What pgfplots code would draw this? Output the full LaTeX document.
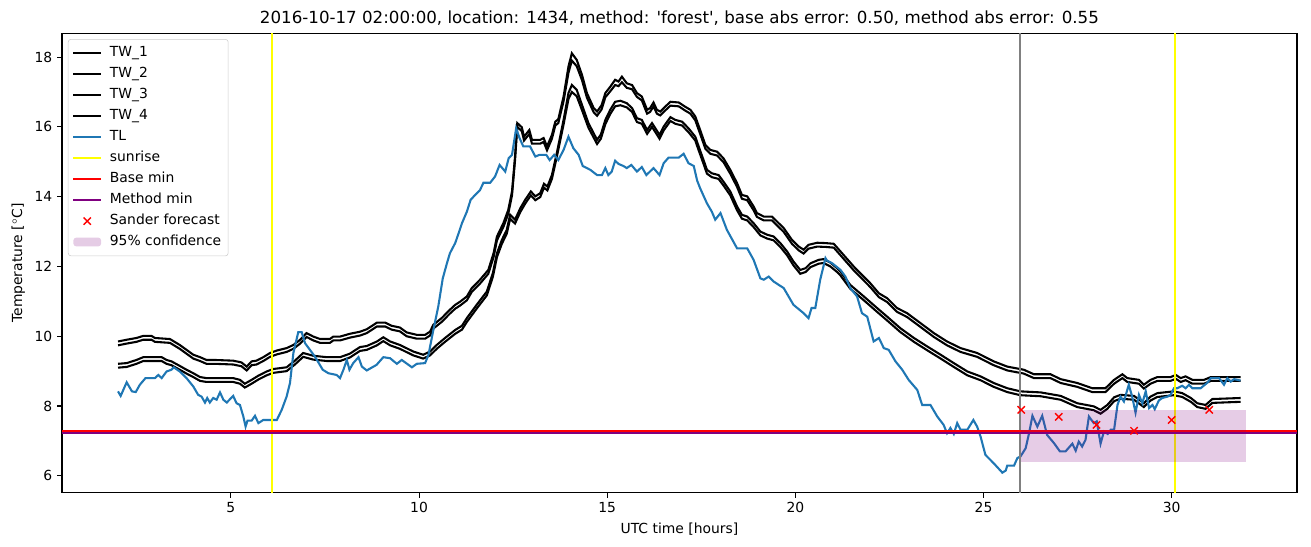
\documentclass[border=0pt]{standalone}
\usepackage{fontspec}
\setmainfont{DejaVu Sans}
\newfontfamily\plainfont{DejaVu Sans}
\usepackage{pgfplots}
\usepackage{pgfplotstable}
\pgfplotsset{compat=1.18}
\definecolor{tlblue}{HTML}{1F77B4}
\definecolor{mplpurple}{HTML}{800080}
\definecolor{mplgray}{HTML}{808080}
\definecolor{mplyellow}{HTML}{FFFF00}
\definecolor{mplred}{HTML}{FF0000}

\pgfplotstableread{
x tl
2.00 8.42
2.07 8.29
2.23 8.68
2.37 8.42
2.47 8.40
2.58 8.61
2.73 8.80
2.98 8.80
3.07 8.89
3.16 8.80
3.29 8.99
3.42 9.04
3.48 9.11
3.64 8.99
3.82 8.80
4.00 8.56
4.13 8.32
4.22 8.27
4.31 8.10
4.37 8.23
4.44 8.10
4.53 8.23
4.62 8.18
4.71 8.39
4.80 8.18
4.89 8.10
5.06 8.29
5.15 8.08
5.24 8.03
5.33 7.70
5.39 7.41
5.44 7.58
5.55 7.58
5.64 7.72
5.73 7.51
5.86 7.60
6.22 7.60
6.35 7.89
6.48 8.27
6.57 8.66
6.66 9.52
6.79 10.12
6.88 10.12
6.97 9.80
7.23 9.42
7.44 9.04
7.59 8.94
7.81 8.89
7.90 8.80
7.99 9.04
8.08 9.32
8.15 9.04
8.25 9.23
8.39 9.40
8.48 9.13
8.61 9.02
8.87 9.18
9.05 9.40
9.23 9.37
9.41 9.21
9.54 9.32
9.81 9.11
9.94 9.21
10.16 9.23
10.25 9.47
10.38 10.18
10.51 10.85
10.63 11.66
10.74 12.09
10.82 12.38
10.96 12.67
11.05 12.95
11.14 13.24
11.27 13.57
11.37 13.91
11.49 14.05
11.62 14.19
11.71 14.40
11.89 14.40
12.02 14.58
12.14 14.91
12.29 14.72
12.38 15.10
12.47 15.20
12.58 15.96
12.67 15.68
12.77 15.44
12.95 15.44
13.09 15.15
13.20 15.20
13.38 15.20
13.47 15.05
13.59 15.20
13.70 15.05
13.84 15.34
13.97 15.72
14.10 15.39
14.24 15.20
14.35 14.88
14.55 14.77
14.73 14.62
14.86 14.62
14.95 14.82
15.03 14.62
15.12 14.72
15.21 15.03
15.30 14.94
15.43 14.88
15.52 14.82
15.64 14.91
15.79 14.72
15.92 14.85
16.04 14.62
16.23 14.82
16.39 14.62
16.50 14.96
16.63 15.12
16.90 15.12
17.03 15.23
17.16 14.96
17.30 14.88
17.39 14.46
17.47 14.24
17.65 13.81
17.78 13.57
17.87 13.34
18.01 13.53
18.18 13.05
18.45 12.52
18.72 12.52
18.89 12.19
19.07 11.66
19.16 11.62
19.29 11.71
19.42 11.57
19.69 11.38
19.95 10.90
20.22 10.66
20.35 10.52
20.43 10.81
20.53 10.81
20.66 11.62
20.80 12.24
20.84 12.17
20.98 12.09
21.20 11.90
21.33 11.71
21.46 11.38
21.64 11.14
21.77 10.66
21.91 10.56
22.08 9.85
22.22 9.95
22.35 9.66
22.48 9.61
22.66 9.28
22.84 9.04
23.01 8.75
23.24 8.46
23.37 8.03
23.59 8.03
23.77 7.70
23.94 7.46
24.03 7.22
24.12 7.37
24.21 7.20
24.30 7.51
24.39 7.32
24.57 7.32
24.73 7.60
24.83 7.41
24.92 7.13
25.05 6.60
25.27 6.36
25.50 6.09
25.59 6.15
25.63 6.29
25.81 6.29
25.90 6.51
25.98 6.55
26.12 6.79
26.21 7.22
26.30 7.72
26.43 7.41
26.56 7.72
26.69 7.17
26.87 6.94
27.03 6.70
27.18 6.70
27.36 6.92
27.45 6.72
27.53 6.98
27.62 6.84
27.71 7.03
27.80 7.70
27.93 7.51
28.01 7.56
28.11 6.92
28.20 7.27
28.30 7.20
28.38 7.32
28.47 7.32
28.56 8.03
28.64 8.27
28.73 8.13
28.86 8.61
28.95 8.27
29.04 7.81
29.13 8.32
29.22 8.08
29.31 8.42
29.40 7.94
29.49 8.03
29.55 7.91
29.66 8.16
29.75 8.23
29.89 8.27
29.97 8.32
30.06 8.51
30.15 8.51
30.28 8.58
30.37 8.51
30.46 8.61
30.55 8.51
30.77 8.51
30.95 8.67
31.04 8.80
31.26 8.80
31.39 8.61
31.48 8.80
31.57 8.70
31.66 8.77
31.83 8.73
}\tltable

\pgfplotstableread{
x a b
2.00 9.85 9.74
2.23 9.90 9.79
2.49 9.95 9.84
2.67 10.01 9.90
2.89 10.01 9.90
2.98 9.95 9.84
3.38 9.92 9.81
3.64 9.75 9.64
3.82 9.61 9.50
4.00 9.47 9.36
4.18 9.40 9.29
4.35 9.32 9.21
4.57 9.32 9.21
5.06 9.30 9.19
5.28 9.25 9.14
5.42 9.13 9.02
5.55 9.28 9.17
5.68 9.30 9.19
5.86 9.40 9.29
6.04 9.52 9.41
6.22 9.59 9.48
6.48 9.66 9.55
6.66 9.75 9.64
6.84 9.90 9.79
7.01 10.09 9.98
7.19 9.99 9.88
7.37 9.92 9.81
7.63 9.92 9.81
7.72 9.99 9.88
7.90 9.99 9.88
8.16 10.07 9.96
8.43 10.13 10.02
8.61 10.20 10.09
8.88 10.39 10.28
9.10 10.39 10.28
9.27 10.30 10.19
9.49 10.25 10.14
9.67 10.11 10.00
9.94 10.04 9.93
10.16 10.04 9.93
10.29 10.13 10.02
10.38 10.33 10.22
10.60 10.52 10.41
10.82 10.76 10.65
10.96 10.90 10.79
11.09 10.99 10.88
11.27 11.14 11.03
11.40 11.38 11.27
11.62 11.62 11.51
11.84 11.90 11.79
11.98 12.38 12.27
12.07 12.86 12.75
12.24 13.24 13.13
12.37 13.62 13.51
12.47 14.15 14.04
12.55 15.15 15.04
12.61 16.11 16.00
12.73 15.99 15.88
12.79 15.72 15.61
12.93 15.91 15.80
13.00 15.63 15.52
13.22 15.63 15.52
13.31 15.68 15.57
13.40 15.44 15.33
13.53 15.77 15.66
13.62 16.15 16.04
13.70 16.22 16.11
13.84 16.87 16.74
13.97 17.73 17.55
14.06 18.11 17.90
14.19 17.92 17.74
14.33 17.49 17.34
14.46 16.97 16.84
14.64 16.54 16.42
14.73 16.44 16.32
14.85 16.62 16.50
14.95 16.97 16.85
15.08 17.15 17.02
15.21 17.35 17.20
15.30 17.30 17.17
15.39 17.44 17.28
15.52 17.25 17.12
15.66 17.20 17.08
15.79 16.97 16.86
15.92 16.87 16.76
16.06 16.49 16.38
16.14 16.54 16.43
16.23 16.70 16.59
16.32 16.49 16.38
16.41 16.44 16.33
16.54 16.58 16.47
16.68 16.72 16.61
16.90 16.70 16.59
17.07 16.58 16.47
17.21 16.49 16.38
17.34 16.30 16.19
17.47 15.91 15.80
17.61 15.48 15.37
17.74 15.34 15.23
17.92 15.29 15.18
18.09 15.10 14.99
18.27 14.77 14.66
18.45 14.39 14.28
18.58 14.05 13.94
18.72 14.01 13.90
18.89 13.72 13.61
18.98 13.53 13.42
19.16 13.43 13.32
19.38 13.43 13.32
19.51 13.29 13.18
19.69 13.10 12.99
19.91 12.76 12.65
20.09 12.57 12.46
20.22 12.48 12.37
20.35 12.62 12.51
20.58 12.68 12.57
20.80 12.67 12.56
21.02 12.65 12.54
21.20 12.43 12.32
21.55 12.00 11.89
21.99 11.52 11.41
22.22 11.23 11.12
22.44 11.09 10.98
22.70 10.81 10.70
22.97 10.66 10.55
23.32 10.38 10.27
23.68 10.09 9.98
24.03 9.85 9.74
24.39 9.66 9.55
24.83 9.52 9.41
25.27 9.28 9.17
25.63 9.13 9.02
26.07 9.04 8.93
26.34 8.91 8.80
26.78 8.91 8.80
27.05 8.77 8.66
27.49 8.66 8.55
27.89 8.51 8.40
28.24 8.51 8.40
28.47 8.75 8.64
28.69 8.91 8.80
28.82 8.80 8.69
29.13 8.75 8.64
29.26 8.61 8.50
29.44 8.75 8.64
29.62 8.83 8.72
29.97 8.83 8.72
30.11 8.89 8.78
30.24 8.80 8.69
30.37 8.85 8.74
30.55 8.75 8.64
30.86 8.75 8.64
31.04 8.83 8.72
31.83 8.83 8.72
}\uppertable

\pgfplotstableread{
x c d
2.00 9.21 9.10
2.23 9.23 9.12
2.49 9.32 9.21
2.67 9.40 9.29
3.16 9.40 9.29
3.29 9.32 9.21
3.42 9.28 9.17
3.64 9.15 9.04
3.82 9.04 8.93
4.00 8.94 8.83
4.18 8.83 8.72
4.35 8.80 8.69
5.06 8.80 8.69
5.24 8.75 8.64
5.37 8.64 8.53
5.55 8.75 8.64
5.73 8.87 8.76
5.95 8.99 8.88
6.12 9.06 8.95
6.48 9.11 9.00
6.70 9.30 9.19
6.92 9.52 9.41
7.19 9.44 9.33
7.55 9.40 9.29
7.90 9.40 9.29
8.16 9.50 9.39
8.43 9.69 9.58
8.61 9.72 9.61
8.88 9.85 9.74
9.05 9.97 9.86
9.23 9.85 9.74
9.49 9.75 9.64
9.85 9.56 9.45
10.11 9.47 9.36
10.29 9.56 9.45
10.47 9.75 9.64
10.69 9.95 9.84
10.96 10.18 10.07
11.14 10.30 10.19
11.27 10.52 10.41
11.53 10.90 10.79
11.80 11.28 11.17
11.96 11.81 11.70
12.07 12.38 12.27
12.20 12.76 12.65
12.33 13.05 12.94
12.42 13.48 13.37
12.55 13.34 13.23
12.69 13.67 13.56
12.82 13.91 13.80
12.97 14.15 14.04
13.09 14.01 13.90
13.22 14.10 13.99
13.32 14.37 14.26
13.41 14.29 14.18
13.53 14.62 14.51
13.66 15.25 15.14
13.84 16.20 16.07
13.97 16.97 16.80
14.06 17.20 17.00
14.19 17.06 16.88
14.33 16.63 16.48
14.50 16.11 15.98
14.73 15.63 15.51
14.83 15.78 15.66
14.95 16.20 16.08
15.08 16.49 16.37
15.21 16.72 16.59
15.35 16.75 16.62
15.52 16.68 16.56
15.66 16.54 16.43
15.79 16.25 16.14
15.92 16.20 16.09
16.06 15.91 15.80
16.19 16.11 16.00
16.28 15.96 15.85
16.39 15.77 15.66
16.50 16.01 15.90
16.68 16.28 16.17
16.81 16.20 16.09
16.99 16.15 16.04
17.16 15.96 15.85
17.34 15.72 15.61
17.43 15.44 15.33
17.56 15.05 14.94
17.65 14.77 14.66
17.78 14.67 14.56
17.96 14.62 14.51
18.09 14.43 14.32
18.27 14.15 14.04
18.45 13.72 13.61
18.58 13.48 13.37
18.72 13.43 13.32
18.89 13.24 13.13
19.07 13.00 12.89
19.25 12.91 12.80
19.42 12.86 12.75
19.60 12.67 12.56
19.78 12.43 12.32
19.95 12.14 12.03
20.13 11.90 11.79
20.27 11.95 11.84
20.40 12.09 11.98
20.62 12.19 12.08
20.75 12.21 12.10
20.93 12.11 12.00
21.11 11.95 11.84
21.20 11.85 11.74
21.46 11.47 11.36
21.82 11.14 11.03
22.17 10.81 10.70
22.44 10.56 10.45
22.79 10.23 10.12
23.15 9.95 9.84
23.50 9.71 9.60
23.86 9.47 9.36
24.21 9.23 9.12
24.57 8.99 8.88
24.92 8.85 8.74
25.27 8.66 8.55
25.63 8.51 8.40
25.98 8.42 8.31
26.52 8.39 8.28
27.05 8.29 8.18
27.49 8.08 7.97
27.93 7.99 7.88
28.11 7.89 7.78
28.29 8.03 7.92
28.47 8.25 8.14
28.64 8.32 8.21
29.00 8.29 8.18
29.26 8.08 7.97
29.44 8.27 8.16
29.62 8.37 8.26
30.06 8.42 8.31
30.28 8.37 8.26
30.51 8.23 8.12
30.68 8.08 7.97
30.90 8.03 7.92
31.08 8.20 8.09
31.83 8.23 8.12
}\lowertable

\begin{document}
\begin{tikzpicture}
\begin{axis}[
  scale only axis,
  width=889pt, height=331pt,
  xmin=0.51, xmax=33.33, ymin=5.51, ymax=18.69,
  xtick={5,10,15,20,25,30}, ytick={6,8,10,12,14,16,18},
  xtick pos=left, ytick pos=left,
  tick align=outside,
  major tick length=3.5pt,
  every tick/.style={black, line width=0.8pt},
  axis line style={line width=0.8pt},
  /pgf/number format/assume math mode=true,
  tick label style={font=\fontsize{10}{12}\selectfont},
  label style={font=\fontsize{10}{12}\selectfont},
  xlabel={UTC time [hours]},
  ylabel={Temperature [$^\circ$C]},
  title={\plainfont 2016-10-17 02:00:00, location: 1434, method: 'forest', base abs error: 0.50, method abs error: 0.55},
  title style={font=\fontsize{12}{14}\selectfont, yshift=-4.3pt},
  legend cell align=left,
  legend image code/.code={\draw[mark repeat=2,mark phase=2,#1] plot coordinates {(0cm,0cm) (0.35cm,0cm) (0.7cm,0cm)};},
  legend style={at={(rel axis cs:0,1)}, anchor=north west, xshift=4.3pt, yshift=-4.3pt,
    draw=black!20, rounded corners=2pt, fill=white, fill opacity=0.8, text opacity=1,
    font=\fontsize{10}{12}\selectfont, row sep=1.1pt, column sep=3.6pt, inner xsep=3pt, inner ysep=3pt,
    nodes={inner sep=2pt, text height=7.5pt, text depth=2.5pt}},
]
\addplot[black, line width=1.5pt] table[x=x, y=a] {\uppertable};
\addlegendentry{TW\_1}
\addplot[black, line width=1.5pt] table[x=x, y=b] {\uppertable};
\addlegendentry{TW\_2}
\addplot[black, line width=1.5pt] table[x=x, y=c] {\lowertable};
\addlegendentry{TW\_3}
\addplot[black, line width=1.5pt] table[x=x, y=d] {\lowertable};
\addlegendentry{TW\_4}
\addplot[tlblue, line width=1.5pt] table[x=x, y=tl] {\tltable};
\addlegendentry{TL}
\addplot[mplyellow, line width=1.5pt] coordinates {(6.09,5.51) (6.09,18.69)};
\addlegendentry{sunrise}
\addplot[mplyellow, line width=1.5pt, forget plot] coordinates {(30.08,5.51) (30.08,18.69)};
\addplot[mplgray, line width=1.5pt, forget plot] coordinates {(25.97,5.51) (25.97,18.69)};
\addplot[mplred, line width=1.5pt] coordinates {(0.51,7.28) (33.33,7.28)};
\addlegendentry{Base min}
\addplot[mplpurple, line width=1.5pt] coordinates {(0.51,7.23) (33.33,7.23)};
\addlegendentry{Method min}
\addplot[only marks, mark=x, mark size=3.7pt, mplred, mark options={line width=1pt}] coordinates {(26,7.89) (27,7.69) (28,7.46) (29,7.29) (30,7.60) (31,7.89)};
\addlegendentry{Sander forecast}
\addplot[draw=none, fill=mplpurple, fill opacity=0.2,
  legend image code/.code={\fill[mplpurple, fill opacity=0.2] (0cm,-0.11cm) rectangle (0.7cm,0.11cm);}]
  coordinates {(26,6.40) (31.97,6.40) (31.97,7.89) (26,7.89)} -- cycle;
\addlegendentry{95\% confidence}
\end{axis}
\path (current axis.south west) ++(-44.6pt,-38.9pt);
\path (current axis.north east) ++(10.1pt,23.8pt);
\end{tikzpicture}
\end{document}
